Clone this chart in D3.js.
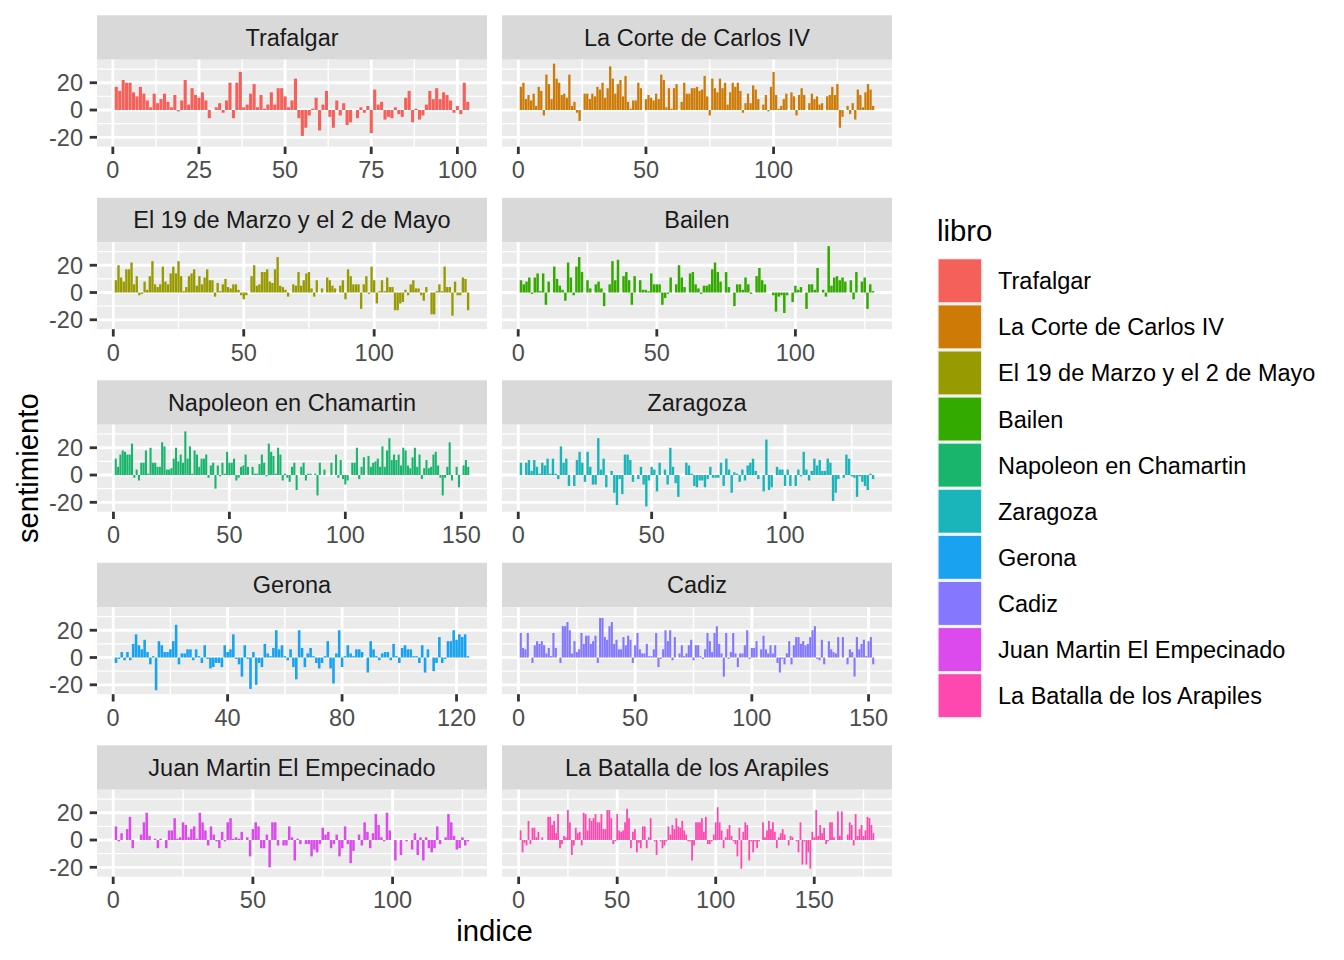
<!DOCTYPE html>
<html>
<head>
<meta charset="utf-8">
<script src="https://cdn.jsdelivr.net/npm/d3@7"></script>
<style>
body { margin: 0; background: #fff; }
svg text { font-family: "Liberation Sans", Arial, Helvetica, sans-serif; }
</style>
</head>
<body>
<div id="chart"></div>
<script>
var libros = ["Trafalgar", "La Corte de Carlos IV", "El 19 de Marzo y el 2 de Mayo", "Bailen",
  "Napoleon en Chamartin", "Zaragoza", "Gerona", "Cadiz", "Juan Martin El Empecinado",
  "La Batalla de los Arapiles"];
var colores = ["#F5605A", "#CD7A06", "#979A00", "#33AA00", "#1AB56D",
  "#1AB5BA", "#18A2F0", "#8378FF", "#DC4AEE", "#FF47B0"];

var trafalgar = [17,14,22,20,20,13,10,17,12,7,2,12,5,8,12,6,2,11,-1,7,22,4,16,11,9,13,7,-6,0,2,5,-2,7,20,-6,20,28,2,4,12,19,2,11,1,4,13,4,16,16,10,2,7,23,-6,-19,-13,-4,1,9,-15,4,14,-5,-13,7,-4,5,-11,-9,0,-6,2,-2,3,-17,15,4,6,-7,-5,-6,2,-3,-5,9,14,-9,1,-7,-4,4,14,8,16,8,13,11,7,-2,3,-3,20,6];
var corte = [17,20,8,11,7,12,3,17,14,-4,26,19,8,34,23,20,11,12,9,26,3,6,-2,-8,0,12,12,8,12,10,17,15,20,9,16,32,23,12,19,22,10,25,6,1,7,7,20,16,0,8,11,9,7,12,8,26,22,2,16,1,16,19,0,6,20,12,12,16,16,17,14,15,25,10,-4,23,16,13,23,16,20,4,13,20,17,20,14,-2,5,12,5,18,15,8,0,4,11,-1,17,28,11,1,3,8,12,0,13,10,-4,11,16,11,0,5,12,8,10,4,5,0,10,11,17,11,19,-13,-5,0,3,-3,5,-7,15,11,2,13,19,15,3];
var marzo = [9,20,11,8,17,17,22,6,12,-2,-1,8,2,12,23,6,4,6,19,8,6,14,19,14,23,12,1,4,12,14,17,5,12,6,11,17,9,9,-3,7,1,6,10,4,3,6,6,2,-2,-5,-2,0,12,20,5,6,15,15,17,8,7,17,26,5,4,2,-3,0,6,5,15,5,9,14,15,3,-3,9,0,3,0,11,9,5,3,0,5,9,-5,17,12,6,6,6,-12,6,12,-1,19,9,-8,1,9,1,11,4,4,-13,-13,-8,-7,2,-2,6,9,3,3,-2,-6,4,0,-16,-16,1,6,1,19,4,4,-17,8,-2,-2,11,10,-13];
var bailen = [9,6,8,11,-1,11,14,1,14,-9,8,0,19,10,5,2,-6,22,11,-2,19,26,15,0,9,3,0,6,8,3,-10,0,6,23,9,24,0,12,15,9,-9,12,0,9,2,2,1,14,6,6,6,-9,-4,-1,11,0,6,20,11,4,0,14,15,6,3,-1,5,5,6,17,22,15,8,0,15,4,0,-10,6,6,2,11,6,-1,0,12,18,9,6,0,0,-2,-14,-3,-2,-15,-2,0,-7,5,2,4,0,-12,6,6,2,18,0,2,-3,34,5,11,12,9,11,8,0,9,-5,15,0,8,11,-12,6,1];
var chamartin = [12,6,15,18,17,15,15,23,-2,4,-4,9,9,18,1,20,9,9,6,6,24,21,4,4,5,12,20,10,15,9,32,12,21,1,18,15,6,12,12,15,-2,7,9,-10,7,-1,9,1,17,9,9,12,-4,-2,6,7,15,6,0,6,1,1,8,15,9,-1,23,17,14,1,20,15,-4,1,-2,-5,6,9,-11,0,6,9,-4,1,1,0,1,-15,9,0,4,0,0,9,0,15,-2,11,-3,-7,-4,0,9,9,20,-3,6,13,0,14,6,9,10,12,6,21,6,18,27,11,15,11,15,7,20,18,7,5,13,20,6,15,-3,5,11,5,6,15,17,7,-2,-15,-2,6,24,-4,0,6,-9,0,7,11,6];
var zaragoza = [9,0,9,11,3,11,6,1,9,7,12,1,12,1,-3,21,9,12,-8,0,-8,11,17,9,-5,17,6,-7,-7,27,4,12,-9,0,3,-13,-22,-3,-14,15,15,11,-5,0,-3,6,-7,-23,-4,6,4,-12,9,0,4,-7,20,6,-6,-16,0,0,9,7,1,-8,-9,-4,-4,-9,-3,6,-2,-2,-2,9,-8,12,4,-13,2,1,-5,4,-4,7,9,12,3,-3,0,-12,26,-11,-9,0,6,4,4,-8,4,-8,0,-8,4,-1,17,4,-4,3,12,7,11,3,3,12,9,-19,-13,-3,0,-2,15,12,-1,-2,-16,-1,-5,-8,-11,1,-3];
var gerona = [-4,-1,4,-2,4,-2,10,17,9,6,13,4,-5,1,-24,12,9,4,4,6,12,24,-5,3,3,6,6,-2,6,1,-4,9,-1,-8,-7,-4,-4,-7,9,4,6,17,-1,-5,-14,9,-1,-23,4,-20,-4,-7,10,3,1,7,20,6,9,1,-2,6,-7,-16,20,7,-7,3,7,1,-4,-8,-4,1,12,-8,-19,3,20,-7,1,9,3,1,6,6,4,0,-11,12,6,1,-2,3,4,4,-2,10,1,-4,7,9,6,6,1,1,-4,9,-11,6,0,-10,-4,15,-4,-1,12,12,20,13,17,15,17,1];
var cadiz = [18,7,6,18,0,-4,9,12,10,12,9,3,7,1,18,7,0,-4,23,23,26,20,3,12,4,6,18,10,16,16,10,12,16,-4,29,29,15,13,23,26,10,13,6,6,15,9,16,13,-4,9,18,6,3,3,10,1,1,6,18,-7,-1,6,20,12,20,-2,15,0,3,9,1,3,9,13,-2,9,9,1,-1,6,18,12,4,18,23,10,3,-14,18,-1,4,18,3,-7,3,3,9,20,-1,7,7,12,0,6,16,6,3,9,3,9,-4,-11,-1,-5,3,12,-5,9,15,15,10,12,9,10,15,20,23,-1,-2,13,-5,0,12,6,4,3,15,0,15,0,-5,6,4,-14,15,6,10,13,1,12,15,-5];
var juanMartin = [10,-1,5,0,8,17,-6,0,0,4,13,20,3,0,1,-6,1,0,-6,7,7,16,1,2,13,11,2,8,10,1,20,13,7,-4,10,4,-1,-6,6,-1,13,16,1,2,1,6,0,2,-12,8,13,10,-6,-6,4,-20,13,13,-4,0,-4,-4,10,2,-15,1,-3,0,-3,-3,-12,-7,-9,-3,9,4,6,-6,-3,4,-12,-6,10,-3,-17,-8,0,4,-4,13,6,-6,5,19,11,2,-1,20,7,0,-15,0,-11,0,-1,0,-7,5,-11,2,-15,2,-6,-9,-6,10,-3,0,2,19,13,3,-7,-6,2,-4,-1];
var arapiles = [7,-9,-2,-4,14,-3,9,9,2,6,0,2,0,0,17,17,11,14,5,19,-6,-3,3,2,22,13,-11,-4,9,5,6,-4,20,19,7,16,14,16,19,13,13,19,8,8,22,22,16,-3,-1,19,7,6,7,13,23,16,-6,6,8,-9,-2,-6,10,10,-6,2,16,0,-1,-11,0,-1,-6,-4,-1,10,4,11,8,16,10,9,14,7,4,-1,-1,-15,-4,13,13,13,16,6,17,-3,-3,-1,4,13,24,13,7,-6,2,8,11,3,-1,-3,-12,9,-21,6,13,11,-15,-1,-9,-1,-6,-1,0,13,2,7,14,8,13,6,-6,2,5,8,4,0,-4,3,2,0,-1,-9,13,-18,-1,-18,-9,-21,6,2,22,3,11,5,9,-3,-1,13,13,2,0,21,3,21,0,0,4,13,11,-4,19,3,8,11,3,7,17,16,11,5];

var series = [trafalgar, corte, marzo, bailen, chamartin, zaragoza, gerona, cadiz, juanMartin, arapiles];

var ticksX = [[0,25,50,75,100], [0,50,100], [0,50,100], [0,50,100], [0,50,100,150],
  [0,50,100], [0,40,80,120], [0,50,100,150], [0,50,100], [0,50,100,150]];
var ticksY = [-20, 0, 20];

var width = 1344, height = 960;
var colX = [97, 502];
var panelW = 390, panelH = 87;
var firstTop = 59.7, rowStep = 182.5, stripH = 44.4;
var tickFont = 23.5, titleFont = 29.3;
var tickLen = 7.3;

var svg = d3.select('#chart').append('svg')
  .attr('width', width)
  .attr('height', height)
  .attr('viewBox', '0 0 ' + width + ' ' + height);

// shared y scale (ggplot adds 5% each side)
var allValues = d3.merge(series);
var yLo = d3.min(allValues), yHi = d3.max(allValues);
var yPad = (yHi - yLo) * 0.05;

series.forEach(function(values, k) {
  var col = k % 2, row = Math.floor(k / 2);
  var left = colX[col], top = firstTop + row * rowStep;
  var n = values.length;
  var xPad = (n - 0.1) * 0.05;

  var x = d3.scaleLinear().domain([0.55 - xPad, n + 0.45 + xPad]).range([left, left + panelW]);
  var y = d3.scaleLinear().domain([yLo - yPad, yHi + yPad]).range([top + panelH, top]);

  var g = svg.append('g');

  // strip
  g.append('rect')
    .attr('x', left).attr('y', top - stripH)
    .attr('width', panelW).attr('height', stripH)
    .attr('fill', '#D9D9D9');
  g.append('text')
    .attr('x', left + panelW / 2)
    .attr('y', top - stripH / 2)
    .attr('dy', '0.36em')
    .attr('text-anchor', 'middle')
    .attr('font-size', tickFont)
    .attr('fill', '#1A1A1A')
    .text(libros[k]);

  // panel background
  g.append('rect')
    .attr('x', left).attr('y', top)
    .attr('width', panelW).attr('height', panelH)
    .attr('fill', '#EBEBEB');

  // minor grid
  var tx = ticksX[k];
  var step = tx[1] - tx[0];
  var minorX = d3.range(tx[0] - step / 2, tx[tx.length - 1] + step, step)
    .filter(function(v) { return v > x.domain()[0] && v < x.domain()[1]; });
  var minorY = d3.range(ticksY[0] - 10, ticksY[ticksY.length - 1] + 20, 20)
    .filter(function(v) { return v > y.domain()[0] && v < y.domain()[1]; });

  minorX.forEach(function(v) {
    g.append('line').attr('x1', x(v)).attr('x2', x(v)).attr('y1', top).attr('y2', top + panelH)
      .attr('stroke', '#fff').attr('stroke-width', 1.4);
  });
  minorY.forEach(function(v) {
    g.append('line').attr('x1', left).attr('x2', left + panelW).attr('y1', y(v)).attr('y2', y(v))
      .attr('stroke', '#fff').attr('stroke-width', 1.4);
  });
  tx.forEach(function(v) {
    g.append('line').attr('x1', x(v)).attr('x2', x(v)).attr('y1', top).attr('y2', top + panelH)
      .attr('stroke', '#fff').attr('stroke-width', 2.8);
  });
  ticksY.forEach(function(v) {
    g.append('line').attr('x1', left).attr('x2', left + panelW).attr('y1', y(v)).attr('y2', y(v))
      .attr('stroke', '#fff').attr('stroke-width', 2.8);
  });

  // bars
  var bw = x(0.9) - x(0);
  g.append('g').selectAll('rect')
    .data(values)
    .enter().append('rect')
    .attr('x', function(d, i) { return x(i + 1 - 0.45); })
    .attr('y', function(d) { return y(Math.max(0, d)); })
    .attr('width', bw)
    .attr('height', function(d) { return Math.abs(y(d) - y(0)); })
    .attr('fill', colores[k]);

  // x axis
  var bottom = top + panelH;
  tx.forEach(function(v) {
    g.append('line').attr('x1', x(v)).attr('x2', x(v)).attr('y1', bottom).attr('y2', bottom + tickLen)
      .attr('stroke', '#333333').attr('stroke-width', 2.8);
    g.append('text')
      .attr('x', x(v))
      .attr('y', bottom + 31.5)
      .attr('text-anchor', 'middle')
      .attr('font-size', tickFont)
      .attr('fill', '#4D4D4D')
      .text(v);
  });

  // y axis only on left column
  if (col == 0) {
    ticksY.forEach(function(v) {
      g.append('line').attr('x1', left - tickLen).attr('x2', left).attr('y1', y(v)).attr('y2', y(v))
        .attr('stroke', '#333333').attr('stroke-width', 2.8);
      g.append('text')
        .attr('x', left - 14)
        .attr('y', y(v))
        .attr('dy', '0.36em')
        .attr('text-anchor', 'end')
        .attr('font-size', tickFont)
        .attr('fill', '#4D4D4D')
        .text(v);
    });
  }
});

// axis titles
svg.append('text')
  .attr('x', (colX[0] + colX[1] + panelW) / 2)
  .attr('y', 941)
  .attr('text-anchor', 'middle')
  .attr('font-size', titleFont)
  .attr('fill', '#000')
  .text('indice');

svg.append('text')
  .attr('transform', 'translate(38,' + ((firstTop + firstTop + 4 * rowStep + panelH) / 2) + ') rotate(-90)')
  .attr('text-anchor', 'middle')
  .attr('font-size', titleFont)
  .attr('fill', '#000')
  .text('sentimiento');

// legend
var legend = svg.append('g');
legend.append('text')
  .attr('x', 937)
  .attr('y', 241)
  .attr('font-size', titleFont)
  .attr('fill', '#000')
  .text('libro');

var keyTop = 257.7, keyH = 46.1;
libros.forEach(function(name, k) {
  var ky = keyTop + k * keyH;
  legend.append('rect')
    .attr('x', 937).attr('y', ky)
    .attr('width', 45.7).attr('height', keyH)
    .attr('fill', '#F2F2F2');
  legend.append('rect')
    .attr('x', 938.6).attr('y', ky + 1.6)
    .attr('width', 42.5).attr('height', keyH - 3.2)
    .attr('fill', colores[k]);
  legend.append('text')
    .attr('x', 998)
    .attr('y', ky + keyH / 2)
    .attr('dy', '0.36em')
    .attr('font-size', tickFont)
    .attr('fill', '#000')
    .text(name);
});
</script>
</body>
</html>
